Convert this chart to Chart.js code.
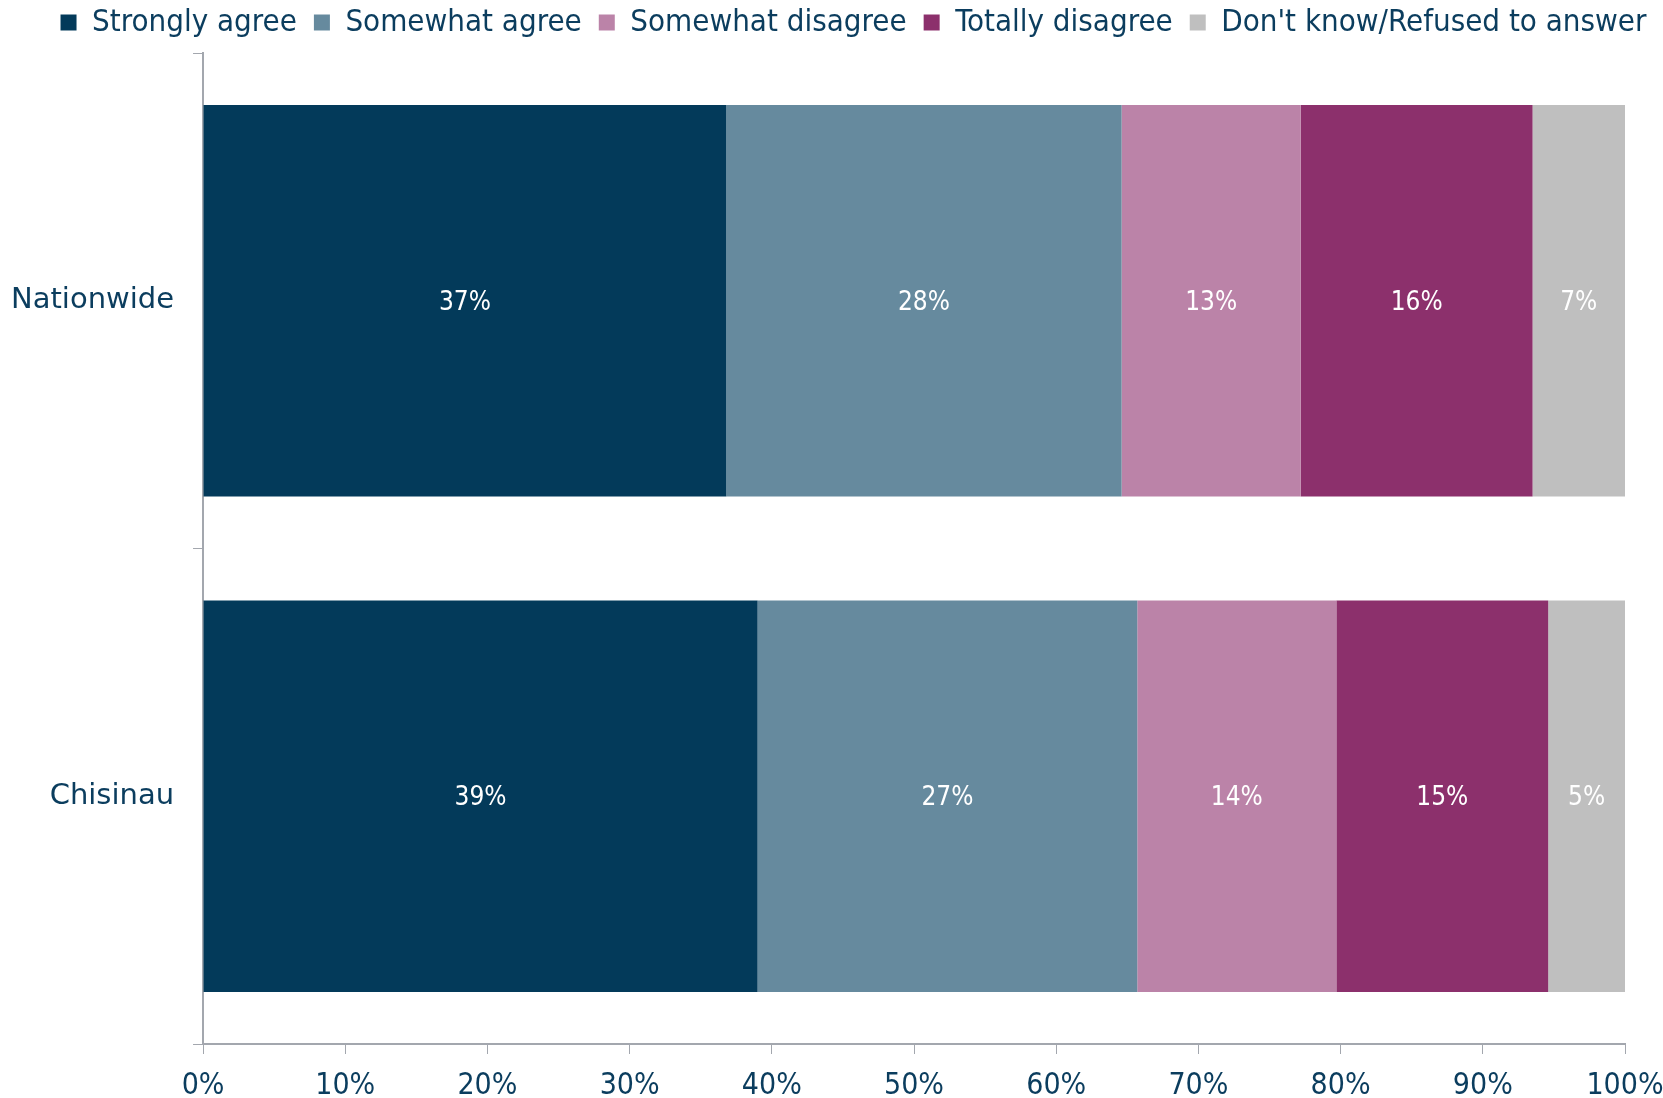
<!DOCTYPE html>
<html>
<head>
<meta charset="utf-8">
<script src="https://cdn.jsdelivr.net/npm/chart.js@4"></script>
<style>
  html, body { margin: 0; padding: 0; background: #fff; }
  #wrap { width: 1663px; height: 1098px; position: relative; }
</style>
</head>
<body>
<div id="wrap"><canvas id="surveyChart"></canvas></div>
<script>
// ── Data ──
var categories = ['Nationwide', 'Chisinau'];
var seriesNames = ['Strongly agree', 'Somewhat agree', 'Somewhat disagree', 'Totally disagree', "Don't know/Refused to answer"];
var seriesColors = ['#033A5A', '#668A9E', '#BB83A8', '#8C306C', '#BFBFBF'];
var stronglyAgree = [36.8, 39.0];
var somewhatAgree = [27.8, 26.7];
var somewhatDisagree = [12.6, 14.0];
var totallyDisagree = [16.3, 14.9];
var dontKnow = [6.5, 5.4];
var xTicks = [0, 10, 20, 30, 40, 50, 60, 70, 80, 90, 100];

var textColor = '#0B3D5E';
var axisColor = '#A3A7AE';
var condensed = '"DejaVu Sans Condensed", "DejaVu Sans", sans-serif';
var seriesValues = [stronglyAgree, somewhatAgree, somewhatDisagree, totallyDisagree, dontKnow];

// white % labels centred in each segment
var segmentLabels = {
    id: 'segmentLabels',
    afterDatasetsDraw: function(chart) {
        var ctx = chart.ctx;
        ctx.save();
        ctx.fillStyle = '#FFFFFF';
        ctx.font = '26px ' + condensed;
        ctx.textAlign = 'center';
        ctx.textBaseline = 'middle';
        chart.data.datasets.forEach(function(ds, i) {
            chart.getDatasetMeta(i).data.forEach(function(bar, j) {
                var p = bar.getProps(['x', 'y', 'base'], true);
                ctx.fillText(Math.round(ds.data[j]) + '%', (p.x + p.base) / 2, p.y + 2);
            });
        });
        ctx.restore();
    }
};

// legend: wide gaps between items, a bit more room below, nudged right
var legendGap = {
    id: 'legendGap',
    beforeLayout: function(chart) {
        var lg = chart.legend;
        if (lg && !lg._gapPatched) {
            var origFit = lg.fit;
            lg.fit = function() { origFit.call(this); this.height += 5; };
            lg._gapPatched = true;
        }
    },
    afterLayout: function(chart) {
        if (chart.legend) { chart.legend.left += 45; chart.legend.right += 45; }
    }
};

var ctx = document.getElementById('surveyChart');
new Chart(ctx.getContext('2d'), {
    type: 'bar',
    data: {
        labels: categories,
        datasets: seriesNames.map(function(name, i) {
            return { label: name, data: seriesValues[i], backgroundColor: seriesColors[i], borderWidth: 0,
                     barPercentage: 1, categoryPercentage: 0.79 };
        })
    },
    options: {
        indexAxis: 'y',
        responsive: true, maintainAspectRatio: false, animation: false,
        layout: { padding: { left: -8, right: 38, top: -10, bottom: -20 } },
        plugins: {
            legend: {
                position: 'top',
                labels: { boxWidth: 16, boxHeight: 16, padding: 17, color: textColor,
                          font: { family: condensed, size: 31 } }
            },
            tooltip: { enabled: false }
        },
        scales: {
            x: {
                stacked: true, min: 0, max: 100,
                afterBuildTicks: function(axis) { axis.ticks = xTicks.map(function(v) { return { value: v }; }); },
                afterFit: function(axis) { axis.paddingRight = 0; },
                grid: { drawOnChartArea: false, drawTicks: true, tickLength: 10, color: axisColor },
                border: { color: axisColor, width: 2 },
                ticks: { color: textColor, padding: 14, maxRotation: 0,
                         font: { family: condensed, size: 30 },
                         callback: function(v) { return v + '%'; } }
            },
            y: {
                stacked: true,
                grid: { drawOnChartArea: false, drawTicks: true, tickLength: 10, color: axisColor, offset: true },
                border: { color: axisColor, width: 2 },
                ticks: { color: textColor, padding: 19,
                         font: { family: '"DejaVu Sans", sans-serif', size: 29 } }
            }
        }
    },
    plugins: [segmentLabels, legendGap]
});
</script>
</body>
</html>
